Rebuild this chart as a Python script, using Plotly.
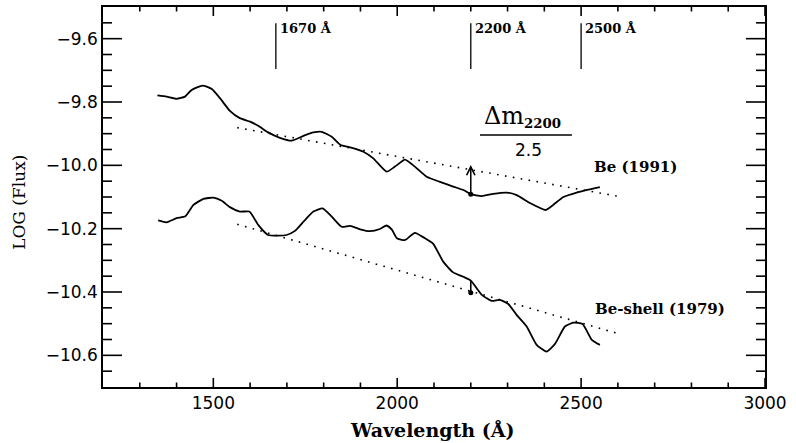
import plotly.graph_objects as go

# ---- data ----
wl_be = [1348, 1373, 1400, 1423, 1441, 1471, 1496, 1518, 1545, 1572, 1600, 1622, 1649, 1681,
         1713, 1745, 1772, 1795, 1822, 1846, 1872, 1908, 1935, 1971, 1994, 2021, 2048, 2080,
         2116, 2152, 2180, 2200, 2230, 2261, 2298, 2325, 2361, 2404, 2424, 2452, 2488, 2551]
flux_be = [-9.779, -9.783, -9.790, -9.783, -9.762, -9.748, -9.759, -9.788, -9.828, -9.851,
           -9.862, -9.875, -9.896, -9.913, -9.922, -9.907, -9.896, -9.894, -9.910, -9.936,
           -9.943, -9.957, -9.978, -10.020, -10.004, -9.982, -10.004, -10.036, -10.052,
           -10.067, -10.078, -10.091, -10.097, -10.090, -10.086, -10.094, -10.119, -10.141,
           -10.125, -10.100, -10.086, -10.069]

wl_shell = [1350, 1373, 1400, 1424, 1446, 1473, 1500, 1523, 1545, 1572, 1598, 1622, 1649, 1677,
            1699, 1722, 1745, 1772, 1797, 1822, 1849, 1872, 1899, 1926, 1953, 1971, 1986, 1999,
            2021, 2048, 2075, 2098, 2125, 2152, 2180, 2200, 2230, 2257, 2279, 2302, 2325, 2352,
            2379, 2406, 2429, 2456, 2479, 2504, 2529, 2551]
flux_shell = [-10.174, -10.180, -10.167, -10.161, -10.125, -10.106, -10.102, -10.112, -10.132,
              -10.146, -10.146, -10.188, -10.220, -10.222, -10.220, -10.207, -10.178, -10.146,
              -10.136, -10.162, -10.194, -10.191, -10.202, -10.208, -10.201, -10.190, -10.204,
              -10.230, -10.236, -10.213, -10.230, -10.248, -10.304, -10.338, -10.352, -10.364,
              -10.409, -10.428, -10.425, -10.438, -10.473, -10.509, -10.567, -10.588, -10.564,
              -10.509, -10.497, -10.501, -10.551, -10.567]

# continuum (dotted) lines
cont_wl = [1565, 2597]
cont_be = [-9.881, -10.097]
cont_shell = [-10.186, -10.530]

# 2200 A measurement points
meas_wl = 2200
meas_be = [-10.091, -9.999]       # dot on curve, arrow tip at continuum
meas_shell = [-10.364, -10.402]   # curve, dot on continuum

# feature markers
feature_wl = [1670, 2200, 2500]
feature_labels = ["1670 Å", "2200 Å", "2500 Å"]
feature_y = [-9.551, -9.696]

# axis ticks
x_major = [1500, 2000, 2500, 3000]
x_minor = [1300, 1400, 1600, 1700, 1800, 1900, 2100, 2200, 2300, 2400,
           2600, 2700, 2800, 2900]
y_major = [-10.6, -10.4, -10.2, -10.0, -9.8, -9.6]
y_minor = [-10.65, -10.55, -10.5, -10.45, -10.35, -10.3, -10.25, -10.15, -10.1, -10.05,
           -9.95, -9.9, -9.85, -9.75, -9.7, -9.65, -9.55]

fig = go.Figure()

dotdash = "1.6px,6.4px"
fig.add_trace(go.Scatter(x=cont_wl, y=cont_be, mode="lines",
                         line=dict(color="black", width=1.6, dash=dotdash)))
fig.add_trace(go.Scatter(x=cont_wl, y=cont_shell, mode="lines",
                         line=dict(color="black", width=1.6, dash=dotdash)))
fig.add_trace(go.Scatter(x=wl_be, y=flux_be, mode="lines",
                         line=dict(color="black", width=1.8, shape="spline", smoothing=0.5)))
fig.add_trace(go.Scatter(x=wl_shell, y=flux_shell, mode="lines",
                         line=dict(color="black", width=1.8, shape="spline", smoothing=0.5)))

# lower measurement segment + dots
fig.add_trace(go.Scatter(x=[meas_wl, meas_wl], y=meas_shell, mode="lines",
                         line=dict(color="black", width=1.6)))
fig.add_trace(go.Scatter(x=[meas_wl, meas_wl], y=[meas_be[0], meas_shell[1]], mode="markers",
                         marker=dict(color="black", size=5)))

# feature marker lines
for w in feature_wl:
    fig.add_trace(go.Scatter(x=[w, w], y=feature_y, mode="lines",
                             line=dict(color="black", width=1.3)))
for w, lab in zip(feature_wl, feature_labels):
    fig.add_annotation(x=w, y=-9.569, text="<b>" + lab + "</b>", showarrow=False,
                       xanchor="left", xshift=2, yanchor="middle",
                       font=dict(family="DejaVu Serif", size=13, color="black"))

# arrow on upper curve
fig.add_annotation(x=meas_wl, y=meas_be[1], ax=meas_wl, ay=meas_be[0],
                   xref="x", yref="y", axref="x", ayref="y", text="",
                   showarrow=True, arrowhead=5, arrowsize=1.1, arrowwidth=1.5,
                   arrowcolor="black")

# delta m fraction
fig.add_annotation(x=2340, y=-9.898,
                   text="Δm<span style='font-size:19px'><sub><b>2200</b></sub></span>",
                   showarrow=False, xanchor="center", yanchor="bottom",
                   font=dict(family="DejaVu Serif", size=24, color="black"))
fig.add_shape(type="line", x0=2225, x1=2475, y0=-9.904, y1=-9.904,
              line=dict(color="black", width=1.5))
fig.add_annotation(x=2358, y=-9.952, text="2.5", showarrow=False,
                   xanchor="center", yanchor="middle",
                   font=dict(family="DejaVu Sans", size=17, color="black"))

fig.add_annotation(x=2530, y=-10.005, text="<b>Be (1991)</b>", showarrow=False,
                   xanchor="left", yanchor="middle",
                   font=dict(family="DejaVu Serif", size=15, color="black"))
fig.add_annotation(x=2532, y=-10.454, text="<b>Be-shell (1979)</b>", showarrow=False,
                   xanchor="left", yanchor="middle",
                   font=dict(family="DejaVu Serif", size=15, color="black"))

# axis titles
fig.add_annotation(xref="paper", yref="paper", x=0.497, y=-0.112, text="<b>Wavelength (Å)</b>",
                   showarrow=False, xanchor="center", yanchor="middle",
                   font=dict(family="DejaVu Serif", size=19, color="black"))
fig.add_annotation(xref="paper", yref="paper", x=-0.127, y=0.487, text="LOG (Flux)",
                   showarrow=False, xanchor="center", yanchor="middle", textangle=-90,
                   font=dict(family="DejaVu Serif", size=17, color="black"))

# inward tick marks on all four sides (lengths in paper units of the 662x380 plot area)
tick_line = dict(color="black", width=1.6)
for vals, ln in ((x_major, 9 / 380), (x_minor, 4.5 / 380)):
    for v in vals:
        fig.add_shape(type="line", xref="x", yref="paper", x0=v, x1=v, y0=0, y1=ln,
                      line=tick_line, layer="above")
        fig.add_shape(type="line", xref="x", yref="paper", x0=v, x1=v, y0=1, y1=1 - ln,
                      line=tick_line, layer="above")
for vals, ln in ((y_major, 19 / 662), (y_minor, 9 / 662)):
    for v in vals:
        fig.add_shape(type="line", xref="paper", yref="y", y0=v, y1=v, x0=0, x1=ln,
                      line=tick_line, layer="above")
        fig.add_shape(type="line", xref="paper", yref="y", y0=v, y1=v, x0=1, x1=1 - ln,
                      line=tick_line, layer="above")

fig.update_layout(
    template="none",
    width=796, height=443,
    margin=dict(l=103, r=31, t=7, b=56),
    paper_bgcolor="white", plot_bgcolor="white",
    showlegend=False,
    font=dict(family="DejaVu Sans", color="black"),
)
fig.update_xaxes(
    range=[1200, 3000], tickvals=x_major, ticktext=[str(v) for v in x_major],
    automargin=False, ticks="",
    showgrid=False, zeroline=False, showline=True, linecolor="black", linewidth=1.5,
    mirror=True, tickfont=dict(family="DejaVu Sans", size=17),
)
fig.update_yaxes(
    range=[-10.7, -9.5], tickvals=y_major, tickformat=".1f",
    automargin=False, ticks="",
    showgrid=False, zeroline=False, showline=True, linecolor="black", linewidth=1.5,
    mirror=True, tickfont=dict(family="DejaVu Sans", size=17),
)

fig.write_html("out.html", config={"displayModeBar": False},
               post_script="document.body.style.margin='0';")
